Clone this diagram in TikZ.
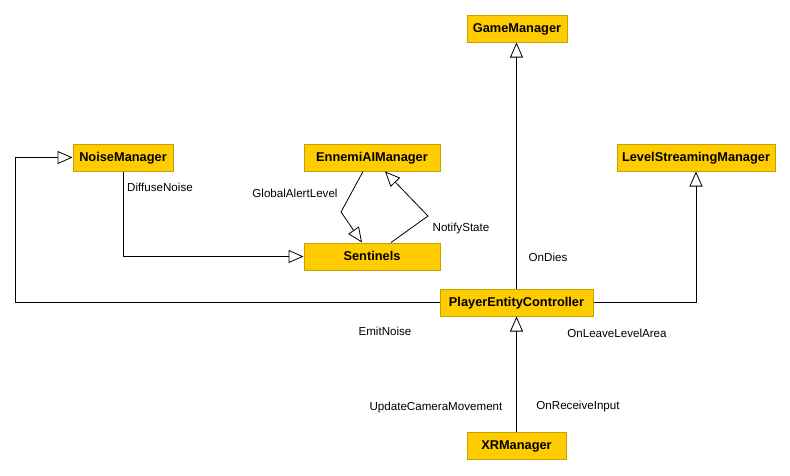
\documentclass[tikz,border=0pt]{standalone}
\usepackage{fontspec}
\setmainfont{Liberation Sans}
\usetikzlibrary{
  arrows.meta,
  positioning
}
\definecolor{classfill}{RGB}{255,204,0}
\definecolor{classline}{RGB}{196,160,0}
\tikzset{
  ->,
  >={Triangle[open, length=15pt, width=13pt]},
  class/.style = {draw=classline, fill=classfill, line width=1pt,
    minimum height=27pt, inner sep=0pt, text height=9.5pt, text depth=2.5pt,
    font=\fontsize{12.8}{14}\selectfont\bfseries},
  msg/.style = {font=\fontsize{11.6}{13}\selectfont, inner sep=0pt},
}

\begin{document}
\begin{tikzpicture}[x=1pt, y=-1pt, line width=0.8pt]
  \useasboundingbox (0,0) rectangle (790,475);
  \node[class, minimum width=100pt] (game) at (517,28.5) {GameManager};
  \node[class, minimum width=100pt] (noise) at (123,157.5) {NoiseManager};
  \node[class, minimum width=136pt] (ennemi) at (372,157.5) {EnnemiAIManager};
  \node[class, minimum width=158pt] (level) at (696,157.5) {LevelStreamingManager};
  \node[class, minimum width=136pt] (sentinels) at (372,256.5) {Sentinels};
  \node[class, minimum width=153pt] (player) at (516.5,302.5) {PlayerEntityController};
  \node[class, minimum width=99pt] (xr) at (516.5,445.5) {XRManager};
  \coordinate (rail) at (15,302.5);

  \draw (xr) -- (player);
  \draw (player.north) -- (player.north |- game.south);
  \draw (player.east) -| (level.south);
  \draw (player.west) -- (rail) |- (noise.west);
  \draw (noise.south) |- (sentinels.west);
  \draw ([xshift=-9pt]ennemi.south) -- (341,212) -- ([xshift=-10pt]sentinels.north);
  \draw ([xshift=19pt]sentinels.north) -- (428,216) -- ([xshift=13pt]ennemi.south);

  \node[msg] (update) at (436,407) {UpdateCameraMovement};
  \node[msg] (input) at (578,406) {OnReceiveInput};
  \node[msg] (dies) at (548,257) {OnDies};
  \node[msg] (leave) at (617,333) {OnLeaveLevelArea};
  \node[msg] (emit) at (385,331) {EmitNoise};
  \node[msg] (diffuse) at (160,187) {DiffuseNoise};
  \node[msg] (alert) at (295,193) {GlobalAlertLevel};
  \node[msg] (notify) at (461,228) {NotifyState};
\end{tikzpicture}
\end{document}
